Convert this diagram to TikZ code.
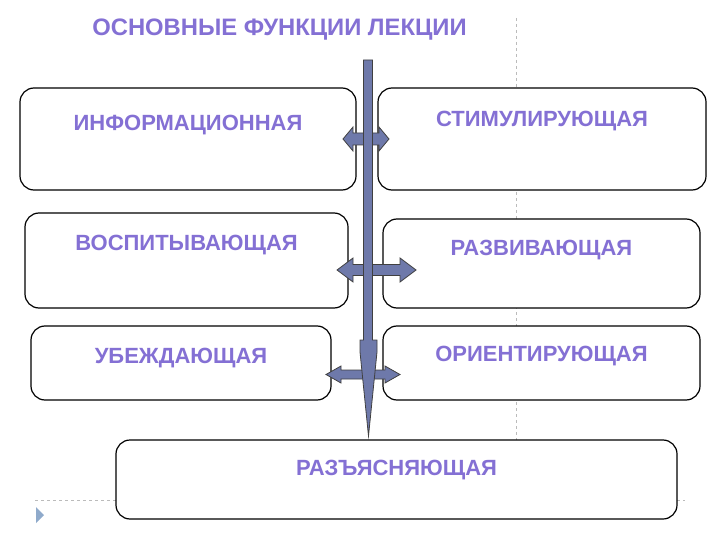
\documentclass[tikz,border=0pt]{standalone}
\usepackage{fontspec}
\setmainfont{Liberation Sans}
\definecolor{barblue}{HTML}{6E79AA}
\definecolor{titleviolet}{HTML}{8470D4}
\definecolor{guidegray}{HTML}{BBBBBB}
\definecolor{bulletblue}{HTML}{8FAACB}
\tikzset{func/.style={draw,rounded corners=14pt,line width=1.2pt,fill=white,inner sep=0pt},fname/.style={font=\bfseries\fontsize{22}{24}\selectfont,text=titleviolet,inner sep=0pt},shaft/.style={fill=barblue,draw=black!75,line width=.8pt,line join=miter},guide/.style={guidegray,dashed,thin}}

\begin{document}
\begin{tikzpicture}[x=1pt,y=-1pt]
\useasboundingbox (0,0) rectangle (720,540);
\draw[guide] (516,18)--(516,440);
\draw[guide] (35,500)--(685,500);
\fill[bulletblue] (36,507)--(44,515)--(36,523)--cycle;
\node[font=\bfseries\fontsize{23.8}{26}\selectfont,text=titleviolet,inner sep=0pt] (title) at (279.5,30) {ОСНОВНЫЕ ФУНКЦИИ ЛЕКЦИИ};
\foreach \nm/\cx/\cy/\w/\h/\dy/\txt in {inf/188/139/336/102/14/ИНФОРМАЦИОННАЯ,stim/542/139/328/102/18/СТИМУЛИРУЮЩАЯ,vosp/186.5/260.5/323/95/15/ВОСПИТЫВАЮЩАЯ,razv/541.5/263.5/317/89/13/РАЗВИВАЮЩАЯ,ubezh/181/363/300/74/5/УБЕЖДАЮЩАЯ,orient/541.5/363/317/74/7/ОРИЕНТИРУЮЩАЯ,razj/396.5/479.5/561/79/9.5/РАЗЪЯСНЯЮЩАЯ}{
  \node[func,minimum width=\w pt,minimum height=\h pt] (\nm) at (\cx,\cy) {};
  \node[fname] (\nm-t) at (\cx,\cy-\dy) {\txt};
}
% double arrows: y / left / right / half shaft / half head / head length
\foreach \ay/\xl/\xr/\s/\hh/\hl in {139/343/389/6/12/10,270/337/416/5.5/12/16,374.5/326/400/4.5/8.5/15}{
  \draw[shaft] (\xl,\ay)--(\xl+\hl,\ay-\hh)--(\xl+\hl,\ay-\s)--(\xr-\hl,\ay-\s)--(\xr-\hl,\ay-\hh)--(\xr,\ay)--(\xr-\hl,\ay+\hh)--(\xr-\hl,\ay+\s)--(\xl+\hl,\ay+\s)--(\xl+\hl,\ay+\hh)--cycle;
}
\draw[shaft] (363.5,60)--(372.5,60)--(372.5,340)--(377,340)--(377,352)--(368.5,436)--(360,352)--(360,340)--(363.5,340)--cycle;
\end{tikzpicture}
\end{document}
